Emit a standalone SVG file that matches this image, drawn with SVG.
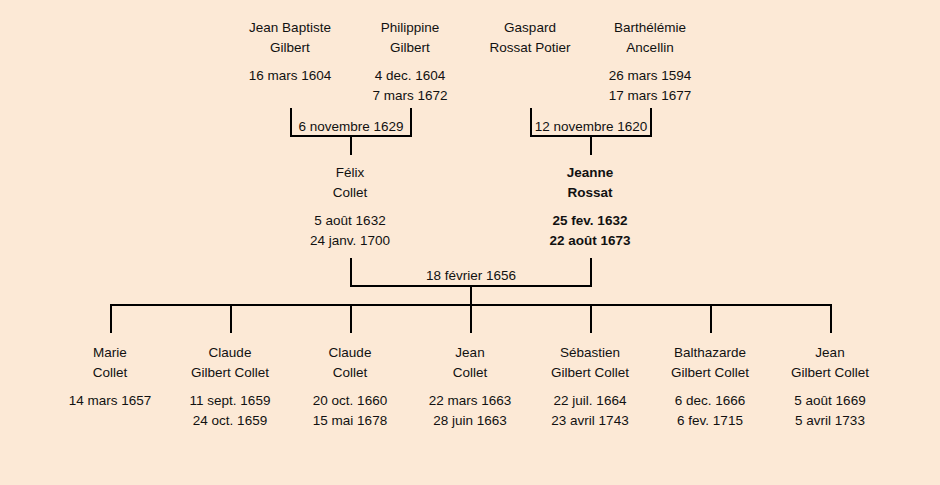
<svg xmlns="http://www.w3.org/2000/svg" width="940" height="485" viewBox="0 0 940 485">
<style>
text{font-family:"Liberation Sans","DejaVu Sans",sans-serif;font-size:13.5px;fill:#111;text-anchor:middle}
.b{font-weight:bold}
.ln{stroke:#000;stroke-width:2;fill:none}
</style>
<rect width="940" height="485" fill="#FCE9D6"/>
<g id="connectors" class="ln">
<path d="M291 108V136H411V108M351 136V155"/>
<path d="M531 108V136H651V108M591 136V155"/>
<path d="M351 258V286H591V258M471 286V305"/>
<path d="M111 333V305H831V333M231 305V333M351 305V333M471 305V333M591 305V333M711 305V333"/>
</g>
<g id="m1"><text x="351" y="131">6 novembre 1629</text></g>
<g id="m2"><text x="591" y="131">12 novembre 1620</text></g>
<g id="m3"><text x="471" y="280">18 février 1656</text></g>
<g id="jean-baptiste"><text x="290" y="32">Jean Baptiste</text><text x="290" y="52">Gilbert</text><text x="290" y="80">16 mars 1604</text></g>
<g id="philippine"><text x="410" y="32">Philippine</text><text x="410" y="52">Gilbert</text><text x="410" y="80">4 dec. 1604</text><text x="410" y="100">7 mars 1672</text></g>
<g id="gaspard"><text x="530" y="32">Gaspard</text><text x="530" y="52">Rossat Potier</text></g>
<g id="barthelemie"><text x="650" y="32">Barthélémie</text><text x="650" y="52">Ancellin</text><text x="650" y="80">26 mars 1594</text><text x="650" y="100">17 mars 1677</text></g>
<g id="felix"><text x="350" y="177">Félix</text><text x="350" y="197">Collet</text><text x="350" y="225">5 août 1632</text><text x="350" y="245">24 janv. 1700</text></g>
<g id="jeanne"><text class="b" x="590" y="177">Jeanne</text><text class="b" x="590" y="197">Rossat</text><text class="b" x="590" y="225">25 fev. 1632</text><text class="b" x="590" y="245">22 août 1673</text></g>
<g id="marie"><text x="110" y="357">Marie</text><text x="110" y="377">Collet</text><text x="110" y="405">14 mars 1657</text></g>
<g id="claude1"><text x="230" y="357">Claude</text><text x="230" y="377">Gilbert Collet</text><text x="230" y="405">11 sept. 1659</text><text x="230" y="425">24 oct. 1659</text></g>
<g id="claude2"><text x="350" y="357">Claude</text><text x="350" y="377">Collet</text><text x="350" y="405">20 oct. 1660</text><text x="350" y="425">15 mai 1678</text></g>
<g id="jean1"><text x="470" y="357">Jean</text><text x="470" y="377">Collet</text><text x="470" y="405">22 mars 1663</text><text x="470" y="425">28 juin 1663</text></g>
<g id="sebastien"><text x="590" y="357">Sébastien</text><text x="590" y="377">Gilbert Collet</text><text x="590" y="405">22 juil. 1664</text><text x="590" y="425">23 avril 1743</text></g>
<g id="balthazarde"><text x="710" y="357">Balthazarde</text><text x="710" y="377">Gilbert Collet</text><text x="710" y="405">6 dec. 1666</text><text x="710" y="425">6 fev. 1715</text></g>
<g id="jean2"><text x="830" y="357">Jean</text><text x="830" y="377">Gilbert Collet</text><text x="830" y="405">5 août 1669</text><text x="830" y="425">5 avril 1733</text></g>
</svg>
